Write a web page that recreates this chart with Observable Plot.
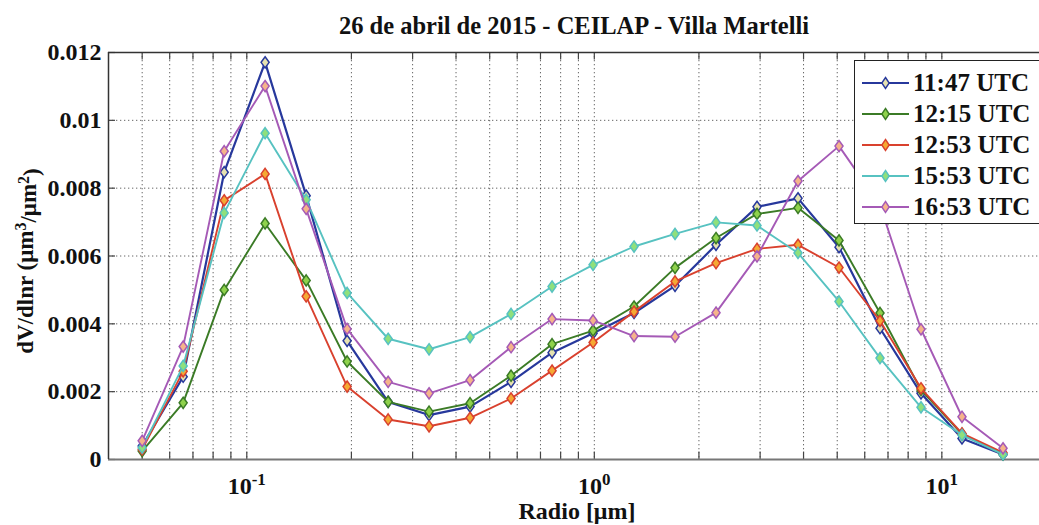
<!DOCTYPE html>
<html>
<head>
<meta charset="utf-8">
<script src="https://cdn.jsdelivr.net/npm/d3@7"></script>
<script src="https://cdn.jsdelivr.net/npm/@observablehq/plot@0.6"></script>
<style>
  html, body { margin: 0; padding: 0; background: #fff; }
  body { width: 1039px; height: 525px; overflow: hidden; position: relative; font-family: "Liberation Serif", "Times New Roman", serif; }
  #title { height: 45px; width: 1148px; text-align: center; font-weight: bold; font-size: 24.5px; line-height: 24px; box-sizing: border-box; color: #111; }
  #title span { position: relative; top: 14px; }
  #chart { position: absolute; left: 0; top: 45px; }
  #legend { position: absolute; left: 854px; top: 60px; width: 200px; height: 164px; border: 1.5px solid #222; background: #fff; box-sizing: border-box; padding-top: 6px; }
  .lrow { height: 31px; display: flex; align-items: center; }
  .lrow svg { margin-left: 7px; flex: none; }
  .lrow span { margin-left: 3px; font-size: 25px; font-weight: bold; color: #111; white-space: nowrap; }
</style>
</head>
<body>
<div id="title"><span>26 de abril de 2015 - CEILAP - Villa Martelli</span></div>
<div id="chart"></div>
<div id="legend"></div>
<script>
// ---- data ----
const radius = [0.05, 0.0656, 0.0861, 0.1129, 0.1482, 0.1944, 0.2551, 0.3346, 0.439, 0.576, 0.7558, 0.9917, 1.3011, 1.7072, 2.2399, 2.9389, 3.8561, 5.0596, 6.6387, 8.7106, 11.4291, 15.0];
const seriesNames = ["11:47 UTC", "12:15 UTC", "12:53 UTC", "15:53 UTC", "16:53 UTC"];
const v1147 = [0.0004, 0.00244, 0.00847, 0.01171, 0.00778, 0.0035, 0.0017, 0.00131, 0.00156, 0.00229, 0.00315, 0.00372, 0.00432, 0.00512, 0.00633, 0.00745, 0.0077, 0.00626, 0.00387, 0.00195, 0.00062, 0.00015];
const v1215 = [0.00025, 0.00167, 0.0050, 0.00696, 0.00528, 0.00289, 0.0017, 0.00141, 0.00166, 0.00247, 0.0034, 0.0038, 0.00451, 0.00565, 0.00653, 0.00724, 0.00742, 0.00646, 0.00432, 0.00205, 0.00075, 0.00015];
const v1253 = [0.0003, 0.0026, 0.00764, 0.00842, 0.00481, 0.00215, 0.00118, 0.00098, 0.00123, 0.0018, 0.00262, 0.00345, 0.00436, 0.00525, 0.00579, 0.00621, 0.00633, 0.00566, 0.00409, 0.0021, 0.00077, 0.0002];
const v1553 = [0.00035, 0.00276, 0.00727, 0.00962, 0.00766, 0.00491, 0.00356, 0.00325, 0.00361, 0.00429, 0.0051, 0.00574, 0.00628, 0.00665, 0.00699, 0.0069, 0.00609, 0.00466, 0.00299, 0.00154, 0.00072, 0.00015];
const v1653 = [0.00055, 0.00333, 0.00909, 0.01101, 0.00739, 0.00385, 0.00229, 0.00195, 0.00234, 0.00331, 0.00414, 0.0041, 0.00364, 0.00362, 0.00433, 0.00599, 0.00821, 0.00924, 0.0075, 0.00384, 0.00126, 0.00033];
const seriesValues = [v1147, v1215, v1253, v1553, v1653];
const lineColors = ["#27389c", "#3b7b26", "#d9412e", "#57c2c1", "#a55ab6"];
const markerFills = ["#e6e2b0", "#8fd24c", "#f5a933", "#8fe07c", "#f5b48a"];

const xGridValues = [0.05, 0.06, 0.07, 0.08, 0.09, 0.1, 0.2, 0.3, 0.4, 0.5, 0.6, 0.7, 0.8, 0.9, 1, 2, 3, 4, 5, 6, 7, 8, 9, 10];
const xTickValues = [0.1, 1, 10];
const xTickBase = ["10", "10", "10"];
const xTickExponents = ["-1", "0", "1"];
const yTickValues = [0, 0.002, 0.004, 0.006, 0.008, 0.01, 0.012];
const yTickLabels = ["0", "0.002", "0.004", "0.006", "0.008", "0.01", "0.012"];
const xDomain = [0.04, 19.1];
const yDomain = [0, 0.012];

// ---- build ----
const rows = [];
seriesNames.forEach((s, k) => radius.forEach((r, i) => rows.push({series: s, k, r, v: seriesValues[k][i]})));

const diamond = {
  draw(ctx, size) {
    const h = Math.sqrt(size) * 0.83, w = h * 0.72;
    ctx.moveTo(0, -h); ctx.lineTo(w, 0); ctx.lineTo(0, h); ctx.lineTo(-w, 0); ctx.closePath();
  }
};

const gridStyle = {stroke: "#333", strokeOpacity: 0.75, strokeDasharray: "1.3,2.7", strokeWidth: 1};
const marks = [
  Plot.gridX(xGridValues, gridStyle),
  Plot.gridY(yTickValues.slice(1, -1), gridStyle),
  Plot.ruleX(xGridValues, {y1: yDomain[0], y2: 0.00022, stroke: "#444", strokeWidth: 1.2}),
  Plot.ruleX(xGridValues, {y1: yDomain[1], y2: 0.01178, stroke: "#444", strokeWidth: 1.2}),
  Plot.ruleY(yTickValues, {x1: xDomain[0], x2: 0.0419, stroke: "#444", strokeWidth: 1.2}),
  Plot.ruleY([yDomain[0]], {stroke: "#777", strokeWidth: 2}),
  Plot.ruleY([yDomain[1]], {stroke: "#333", strokeWidth: 1.5}),
  Plot.ruleX([xDomain[0]], {stroke: "#333", strokeWidth: 1.5}),
  Plot.axisX(xTickValues, {tickSize: 0, tickPadding: 17, fontSize: 24, fontWeight: "bold",
    tickFormat: d => { const i = xTickValues.indexOf(d); return xTickBase[i] + "|" + xTickExponents[i]; }, label: null}),
  Plot.axisY(yTickValues, {tickSize: 0, tickPadding: 7, fontSize: 24, fontWeight: "bold",
    tickFormat: d => yTickLabels[yTickValues.indexOf(d)], label: null})
];
seriesNames.forEach((s, k) => {
  const data = rows.filter(d => d.k === k);
  marks.push(Plot.line(data, {x: "r", y: "v", stroke: lineColors[k], strokeWidth: k === 0 ? 2.2 : 1.9}));
  marks.push(Plot.dot(data, {x: "r", y: "v", symbol: diamond, r: 3.8, fill: markerFills[k], stroke: lineColors[k], strokeWidth: 1.5}));
});

const svg = Plot.plot({
  width: 1039,
  height: 480,
  marginLeft: 108,
  marginRight: 0,
  marginTop: 7,
  marginBottom: 66,
  x: {type: "log", domain: xDomain},
  y: {domain: yDomain},
  style: {fontFamily: "'Liberation Serif', 'Times New Roman', serif", fontSize: "24px", fontWeight: "bold", color: "#111", background: "#fff", overflow: "visible"},
  marks
});

// superscripts on x tick labels
d3.select(svg).selectAll("text").each(function() {
  const t = d3.select(this);
  const s = t.text();
  if (s.includes("|")) {
    const [base, exp] = s.split("|");
    t.text(null);
    t.append("tspan").text(base);
    t.append("tspan").attr("dy", "-0.5em").attr("font-size", "17px").text(exp);
  }
});

// axis titles
const gs = d3.select(svg).append("g").attr("font-weight", "bold").attr("fill", "#111");
const yl = gs.append("text").attr("transform", "translate(33,216) rotate(-90)").attr("text-anchor", "middle").attr("font-size", "23px");
yl.append("tspan").text("dV/dlnr (\u03bcm");
yl.append("tspan").attr("dy", "-0.45em").attr("font-size", "16px").text("3");
yl.append("tspan").attr("dy", "0.45em").text("/\u03bcm");
yl.append("tspan").attr("dy", "-0.45em").attr("font-size", "16px").text("2");
yl.append("tspan").attr("dy", "0.45em").text(")");
gs.append("text").attr("x", 577).attr("y", 474).attr("text-anchor", "middle").attr("font-size", "24px").text("Radio [\u03bcm]");

document.getElementById("chart").appendChild(svg);

// legend
const legend = document.getElementById("legend");
seriesNames.forEach((s, k) => {
  const row = document.createElement("div");
  row.className = "lrow";
  row.innerHTML = `<svg width="48" height="20"><line x1="0" x2="47" y1="10" y2="10" stroke="${lineColors[k]}" stroke-width="2"/>` +
    `<path d="M23.5,4.5 L27.2,10 L23.5,15.5 L19.8,10 Z" fill="${markerFills[k]}" stroke="${lineColors[k]}" stroke-width="1.4"/></svg><span>${s}</span>`;
  legend.appendChild(row);
});
</script>
</body>
</html>
